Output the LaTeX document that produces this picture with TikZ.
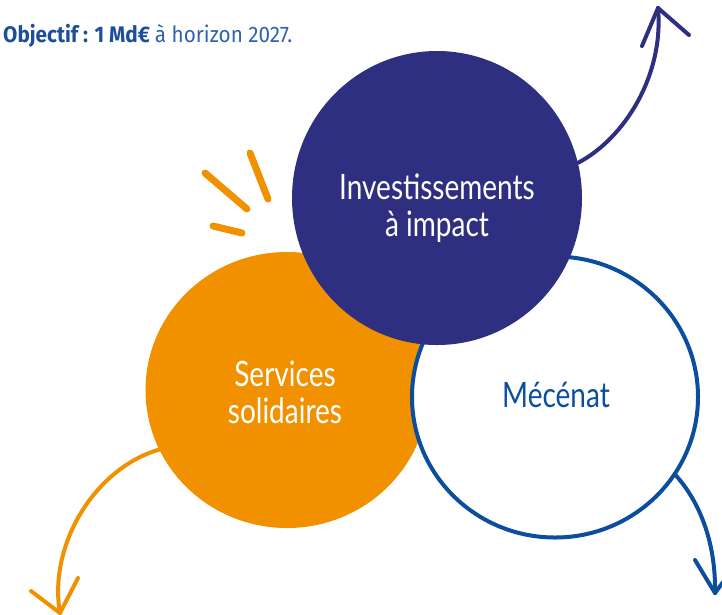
\documentclass[tikz,border=0pt]{standalone}
\usepackage{fontspec}
\setmainfont{Lato}
\newfontfamily\handfont[FakeStretch=0.8]{Lato}
\newfontfamily\topfont[FakeStretch=0.92]{Fira Sans}
\usetikzlibrary{shapes.geometric}
\definecolor{navy}{RGB}{46,47,128}
\definecolor{orng}{RGB}{242,145,0}
\definecolor{mblue}{RGB}{11,78,158}
\definecolor{objbold}{RGB}{29,78,155}
\definecolor{objlight}{RGB}{47,98,173}
\tikzset{
  blob/.style={ellipse, inner sep=0pt},
  handtxt/.style={align=center, inner sep=0pt, font=\handfont\fontsize{35}{37}\selectfont},
  arr/.style={line width=4pt, line cap=round, line join=round},
  spark/.style={line width=7pt, line cap=round, orng},
}
\begin{document}
\begin{tikzpicture}[x=1pt,y=-1pt]
\useasboundingbox (0,0) rectangle (722,614);
\clip (0,0) rectangle (722,614);
% title
\node[anchor=base west, inner sep=0pt] (obj) at (3,42)
  {\topfont\fontsize{22.5}{26}\selectfont\color{objbold}\bfseries Objectif : 1 Md€ \mdseries\color{objlight}à horizon 2027.};
% circles
\node[blob, fill=orng, minimum width=283pt, minimum height=276pt] (serv) at (287,390) {};
\node[blob, fill=white, draw=mblue, line width=4pt, minimum width=286pt, minimum height=281pt] (mec) at (555,397) {};
\node[blob, fill=navy, minimum width=290pt, minimum height=294pt] (inv) at (437,198) {};
% texts
\node[handtxt, text=white] (invtxt) at (437,208) {Investissements\\à impact};
\node[handtxt, text=white] (servtxt) at (285,392) {Services\\solidaires};
\node[handtxt, text=mblue] (mectxt) at (556,395) {Mécénat};
% sparkles
\draw[spark] (250,153) -- (268,199);
\draw[spark] (205,173) -- (247,209);
\draw[spark] (213,226) -- (242,233);
% arrows
\coordinate (tipN) at (658,8);
\coordinate (tipO) at (60,613);
\coordinate (tipB) at (715,593);
\draw[arr, navy] (inv.14) .. controls (625,138) and (664,75) .. (tipN);
\draw[arr, navy] (tipN) -- ++(-16,38);
\draw[arr, navy] (tipN) -- ++(31,27);
\draw[arr, orng] (serv.205) .. controls (95,468) and (48,545) .. (tipO);
\draw[arr, orng] (tipO) -- ++(-29,-22);
\draw[arr, orng] (tipO) -- ++(18,-35);
\draw[arr, mblue] (mec.327) .. controls (698,500) and (716,540) .. (tipB);
\draw[arr, mblue] (tipB) -- ++(-20,-33);
\draw[arr, mblue] (tipB) -- ++(22,-30);
\end{tikzpicture}
\end{document}
